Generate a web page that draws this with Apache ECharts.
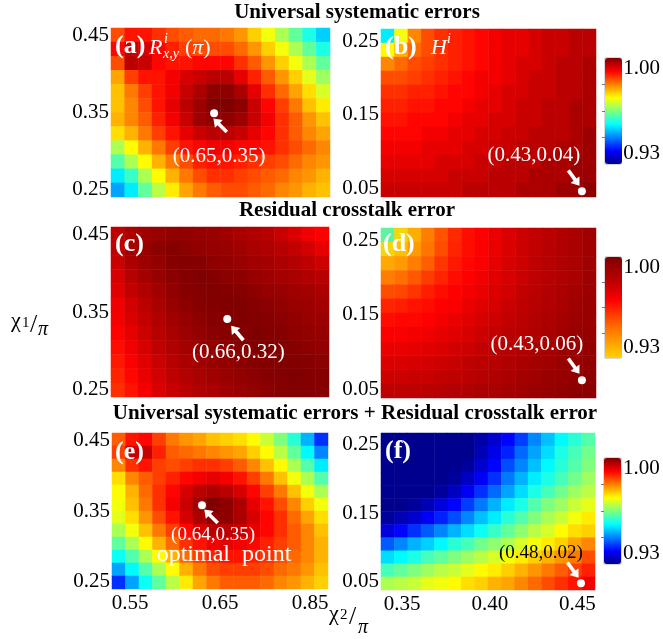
<!DOCTYPE html>
<html><head><meta charset="utf-8">
<script src="https://cdn.jsdelivr.net/npm/echarts@6/dist/echarts.min.js"></script>
<style>html,body{margin:0;padding:0;background:#fff}#c{width:663px;height:639px}</style>
</head><body><div id="c"></div>
<script>
// ---------------- data ----------------
const titles = ['Universal systematic errors', 'Residual crosstalk error', 'Universal systematic errors + Residual crosstalk error'];
const panelNames = ['(a)', '(b)', '(c)', '(d)', '(e)', '(f)'];

const leftXRange = [0.53, 0.77];
const leftYRange = [0.24, 0.46];
const rightXRange = [0.338, 0.46];
const rightYRange = [0.038, 0.267];

const leftXTicks = [0.55, 0.65, 0.75];
const leftXTickLabels = ['0.55', '0.65', '0.85'];
const leftYTicks = [0.25, 0.35, 0.45];
const leftYTickLabels = ['0.25', '0.35', '0.45'];
const rightXTicks = [0.35, 0.40, 0.45];
const rightXTickLabels = ['0.35', '0.40', '0.45'];
const rightYTicks = [0.05, 0.15, 0.25];
const rightYTickLabels = ['0.05', '0.15', '0.25'];
const colorbarTicks = [0.93, 1.00];
const colorbarTickLabels = ['0.93', '1.00'];
const colorbarMinorTicks = [0.9475, 0.965, 0.9825];

const pointCoords = [[0.643, 0.349], [0.452, 0.046], [0.658, 0.341], [0.452, 0.062], [0.630, 0.358], [0.452, 0.048]];
const pointLabels = ['(0.65,0.35)', '(0.43,0.04)', '(0.66,0.32)', '(0.43,0.06)', '(0.64,0.35)', '(0.48,0.02)'];

// rows listed top -> bottom, columns left -> right
const valuesA = [
 [0.986,0.990,0.990,0.988,0.986,0.985,0.984,0.984,0.983,0.981,0.977,0.973,0.968,0.963,0.958,0.953],
 [0.991,0.995,0.994,0.991,0.989,0.987,0.986,0.986,0.986,0.984,0.981,0.977,0.973,0.968,0.963,0.958],
 [0.986,0.996,0.995,0.991,0.990,0.990,0.991,0.991,0.991,0.988,0.985,0.981,0.977,0.973,0.968,0.963],
 [0.980,0.987,0.990,0.990,0.992,0.994,0.995,0.996,0.996,0.993,0.989,0.985,0.981,0.977,0.972,0.967],
 [0.978,0.983,0.987,0.990,0.992,0.995,0.997,0.999,0.999,0.997,0.993,0.988,0.984,0.980,0.976,0.971],
 [0.978,0.982,0.986,0.990,0.993,0.996,0.998,1.000,1.000,0.999,0.995,0.991,0.987,0.983,0.978,0.975],
 [0.979,0.982,0.985,0.989,0.992,0.995,0.998,0.999,0.999,0.998,0.995,0.992,0.988,0.985,0.981,0.978],
 [0.976,0.979,0.983,0.987,0.990,0.993,0.995,0.996,0.996,0.995,0.993,0.991,0.988,0.985,0.982,0.980],
 [0.968,0.974,0.979,0.983,0.987,0.990,0.991,0.992,0.992,0.991,0.991,0.990,0.988,0.986,0.984,0.982],
 [0.962,0.968,0.974,0.979,0.983,0.986,0.989,0.990,0.990,0.989,0.988,0.987,0.986,0.984,0.982,0.981],
 [0.955,0.960,0.968,0.974,0.979,0.983,0.986,0.988,0.988,0.987,0.986,0.985,0.984,0.982,0.981,0.979],
 [0.950,0.955,0.963,0.969,0.975,0.980,0.983,0.985,0.986,0.986,0.985,0.984,0.982,0.981,0.979,0.978]
];
const valuesB = [
 [0.955,0.973,0.982,0.986,0.988,0.989,0.990,0.991,0.992,0.993,0.993,0.994,0.995,0.995,0.996,0.996],
 [0.974,0.979,0.984,0.986,0.988,0.989,0.990,0.991,0.992,0.993,0.993,0.994,0.995,0.995,0.996,0.996],
 [0.982,0.984,0.986,0.987,0.988,0.989,0.990,0.991,0.992,0.993,0.994,0.994,0.995,0.996,0.996,0.997],
 [0.986,0.986,0.987,0.988,0.989,0.990,0.991,0.992,0.992,0.993,0.994,0.995,0.995,0.996,0.996,0.997],
 [0.988,0.988,0.989,0.989,0.990,0.991,0.991,0.992,0.993,0.994,0.994,0.995,0.995,0.996,0.996,0.997],
 [0.989,0.989,0.990,0.990,0.991,0.991,0.992,0.993,0.993,0.994,0.995,0.995,0.996,0.996,0.997,0.997],
 [0.990,0.990,0.991,0.991,0.991,0.992,0.993,0.993,0.994,0.994,0.995,0.995,0.996,0.996,0.997,0.997],
 [0.991,0.991,0.991,0.992,0.992,0.993,0.993,0.994,0.994,0.995,0.995,0.996,0.996,0.996,0.997,0.998],
 [0.992,0.992,0.992,0.993,0.993,0.993,0.994,0.994,0.995,0.995,0.996,0.996,0.996,0.997,0.997,0.998],
 [0.993,0.993,0.993,0.993,0.994,0.994,0.994,0.995,0.995,0.996,0.996,0.996,0.997,0.997,0.998,0.998],
 [0.994,0.994,0.994,0.994,0.994,0.995,0.995,0.995,0.996,0.996,0.996,0.997,0.997,0.997,0.998,0.998],
 [0.995,0.995,0.995,0.995,0.995,0.995,0.996,0.996,0.996,0.996,0.997,0.997,0.997,0.998,0.998,0.999]
];
const valuesC = [
 [0.983,0.988,0.991,0.993,0.995,0.995,0.994,0.993,0.991,0.989,0.987,0.985,0.981,0.977,0.973,0.970],
 [0.983,0.990,0.993,0.997,0.998,0.997,0.995,0.994,0.993,0.991,0.989,0.987,0.985,0.982,0.979,0.975],
 [0.981,0.988,0.992,0.995,0.998,0.999,0.998,0.996,0.995,0.993,0.991,0.990,0.988,0.986,0.983,0.980],
 [0.978,0.985,0.990,0.994,0.997,0.999,1.000,0.999,0.997,0.996,0.994,0.992,0.990,0.989,0.987,0.985],
 [0.976,0.982,0.987,0.991,0.995,0.998,0.999,1.000,0.999,0.998,0.996,0.994,0.993,0.991,0.990,0.988],
 [0.973,0.979,0.984,0.989,0.993,0.996,0.998,0.999,1.000,1.000,0.998,0.997,0.995,0.993,0.992,0.990],
 [0.972,0.977,0.982,0.987,0.991,0.994,0.996,0.998,0.999,1.000,0.999,0.998,0.997,0.995,0.993,0.992],
 [0.970,0.975,0.980,0.985,0.989,0.992,0.995,0.997,0.998,0.999,1.000,0.999,0.998,0.996,0.995,0.994],
 [0.968,0.973,0.978,0.983,0.987,0.990,0.993,0.995,0.997,0.998,0.999,1.000,0.999,0.998,0.996,0.995],
 [0.966,0.971,0.976,0.981,0.985,0.988,0.991,0.993,0.995,0.997,0.998,0.999,1.000,0.999,0.998,0.997],
 [0.964,0.969,0.974,0.979,0.983,0.986,0.989,0.991,0.993,0.995,0.997,0.998,0.999,1.000,0.999,0.998],
 [0.962,0.967,0.972,0.977,0.981,0.984,0.987,0.989,0.991,0.993,0.995,0.997,0.998,0.999,0.999,0.998]
];
const valuesD = [
 [0.918,0.929,0.938,0.948,0.956,0.963,0.968,0.970,0.974,0.977,0.980,0.982,0.984,0.987,0.989,0.991],
 [0.929,0.934,0.942,0.950,0.957,0.964,0.968,0.971,0.974,0.977,0.980,0.982,0.985,0.987,0.989,0.991],
 [0.939,0.942,0.948,0.954,0.961,0.966,0.969,0.971,0.975,0.978,0.980,0.983,0.985,0.987,0.989,0.991],
 [0.948,0.951,0.955,0.960,0.964,0.968,0.970,0.973,0.976,0.978,0.981,0.983,0.985,0.987,0.989,0.992],
 [0.957,0.958,0.961,0.965,0.968,0.970,0.972,0.974,0.977,0.979,0.982,0.984,0.986,0.988,0.990,0.992],
 [0.964,0.965,0.967,0.968,0.970,0.971,0.974,0.976,0.978,0.981,0.983,0.985,0.987,0.989,0.991,0.993],
 [0.968,0.969,0.969,0.970,0.972,0.974,0.976,0.978,0.980,0.982,0.984,0.986,0.988,0.990,0.992,0.993],
 [0.971,0.971,0.972,0.973,0.975,0.976,0.978,0.980,0.982,0.984,0.985,0.987,0.989,0.991,0.993,0.994],
 [0.974,0.974,0.975,0.976,0.977,0.979,0.980,0.982,0.984,0.985,0.987,0.989,0.990,0.992,0.993,0.995],
 [0.977,0.977,0.978,0.979,0.980,0.981,0.983,0.984,0.985,0.987,0.988,0.990,0.991,0.993,0.994,0.995],
 [0.980,0.980,0.981,0.981,0.982,0.983,0.984,0.985,0.987,0.988,0.990,0.991,0.993,0.994,0.995,0.996],
 [0.983,0.983,0.983,0.984,0.985,0.986,0.987,0.988,0.989,0.990,0.991,0.993,0.994,0.995,0.996,0.997]
];
const valuesE = [
 [0.985,0.990,0.991,0.987,0.983,0.981,0.980,0.978,0.977,0.976,0.974,0.970,0.965,0.959,0.951,0.942],
 [0.987,0.995,0.995,0.989,0.985,0.984,0.983,0.982,0.981,0.980,0.977,0.974,0.969,0.963,0.956,0.948],
 [0.982,0.988,0.990,0.987,0.986,0.987,0.988,0.988,0.987,0.985,0.982,0.978,0.974,0.968,0.962,0.955],
 [0.976,0.982,0.985,0.987,0.989,0.991,0.992,0.993,0.992,0.990,0.987,0.983,0.978,0.973,0.968,0.962],
 [0.974,0.979,0.984,0.988,0.991,0.994,0.996,0.997,0.996,0.994,0.991,0.987,0.983,0.978,0.973,0.968],
 [0.973,0.978,0.983,0.988,0.992,0.995,0.998,1.000,0.999,0.997,0.993,0.990,0.986,0.982,0.977,0.973],
 [0.972,0.976,0.981,0.986,0.990,0.994,0.997,0.999,0.999,0.997,0.994,0.991,0.988,0.984,0.980,0.976],
 [0.968,0.973,0.978,0.983,0.987,0.991,0.994,0.996,0.996,0.995,0.993,0.991,0.988,0.985,0.982,0.978],
 [0.963,0.968,0.974,0.979,0.984,0.988,0.990,0.992,0.993,0.992,0.991,0.989,0.987,0.985,0.982,0.979],
 [0.957,0.962,0.968,0.974,0.979,0.984,0.987,0.989,0.990,0.990,0.989,0.988,0.986,0.984,0.982,0.979],
 [0.950,0.956,0.962,0.968,0.974,0.979,0.983,0.986,0.987,0.987,0.987,0.986,0.984,0.983,0.981,0.978],
 [0.942,0.950,0.957,0.963,0.969,0.975,0.980,0.983,0.985,0.985,0.985,0.984,0.982,0.981,0.979,0.977]
];
const valuesF = [
 [0.930,0.930,0.930,0.930,0.930,0.930,0.930,0.932,0.935,0.939,0.943,0.948,0.952,0.956,0.959,0.962],
 [0.930,0.930,0.930,0.930,0.930,0.930,0.930,0.933,0.937,0.941,0.946,0.950,0.954,0.958,0.961,0.964],
 [0.930,0.930,0.930,0.930,0.930,0.930,0.931,0.935,0.939,0.944,0.948,0.952,0.956,0.959,0.962,0.965],
 [0.930,0.930,0.930,0.930,0.930,0.931,0.934,0.938,0.942,0.947,0.951,0.955,0.958,0.961,0.964,0.967],
 [0.930,0.930,0.930,0.930,0.931,0.934,0.938,0.942,0.946,0.950,0.954,0.958,0.961,0.964,0.967,0.969],
 [0.930,0.930,0.931,0.933,0.936,0.939,0.943,0.947,0.951,0.955,0.958,0.962,0.965,0.967,0.970,0.972],
 [0.931,0.933,0.935,0.938,0.941,0.944,0.948,0.952,0.955,0.959,0.962,0.965,0.968,0.970,0.973,0.975],
 [0.936,0.939,0.942,0.945,0.948,0.951,0.954,0.957,0.960,0.963,0.966,0.969,0.971,0.974,0.976,0.977],
 [0.945,0.948,0.951,0.953,0.956,0.959,0.961,0.964,0.966,0.968,0.971,0.973,0.975,0.977,0.980,0.982],
 [0.954,0.956,0.958,0.961,0.963,0.965,0.967,0.969,0.971,0.973,0.975,0.977,0.979,0.981,0.983,0.986],
 [0.961,0.963,0.965,0.967,0.969,0.970,0.972,0.974,0.975,0.977,0.979,0.981,0.983,0.985,0.987,0.989],
 [0.968,0.969,0.970,0.972,0.973,0.974,0.976,0.977,0.979,0.980,0.982,0.984,0.986,0.988,0.990,0.992]
];
const panelValues = [valuesA, valuesB, valuesC, valuesD, valuesE, valuesF];

// ---------------- layout & style ----------------
const serif = '"Liberation Serif","Times New Roman",serif';
const layout = [
  {grid:{left:111,top:28,width:219,height:169}, side:'L', xLabels:false, lblOff:[5,43],  lblSize:21, lblColor:'#fff', arOff:[6,12],  arRot:45},
  {grid:{left:381,top:29,width:215,height:168}, side:'R', xLabels:false, lblOff:[-48,-36],lblSize:21, lblColor:'#fff', arOff:[-8,-13],arRot:-144},
  {grid:{left:111,top:227,width:218,height:170},side:'L', xLabels:false, lblOff:[11,34], lblSize:21, lblColor:'#fff', arOff:[10,14], arRot:40},
  {grid:{left:381,top:228,width:215,height:170},side:'R', xLabels:false, lblOff:[-45,-36],lblSize:21, lblColor:'#fff', arOff:[-8,-14],arRot:-144},
  {grid:{left:112,top:433,width:216,height:156},side:'L', xLabels:true,  lblOff:[11,30], lblSize:19, lblColor:'#fff', arOff:[9,11],  arRot:45},
  {grid:{left:381,top:433,width:214,height:157},side:'R', xLabels:true,  lblOff:[-40,-30],lblSize:19, lblColor:'#000', arOff:[-8,-13],arRot:-144}
];
const cbGrids = [
  {left:605, top:58,  width:17, height:106},
  {left:605, top:257, width:17, height:101},
  {left:604, top:458, width:17, height:106}
];

function hex(c){return [1,3,5].map(i=>parseInt(c.slice(i,i+2),16));}
function sampleColors(anchors, min, max, n){
  const out=[];
  for(let k=0;k<n;k++){
    const v=min+(max-min)*k/(n-1);
    let i=0; while(i<anchors.length-2 && v>anchors[i+1][0]) i++;
    const a=anchors[i], b=anchors[i+1];
    let f=(v-a[0])/(b[0]-a[0]); f=Math.max(0,Math.min(1,f));
    const ca=hex(a[1]), cb=hex(b[1]);
    out.push('rgb('+ca.map((x,j)=>Math.round(x+(cb[j]-x)*f)).join(',')+')');
  }
  return out;
}
const jetAnchors=[[0.93,'#00008f'],[0.93875,'#0000ff'],[0.95625,'#00ffff'],[0.97375,'#ffff00'],[0.99125,'#ff0000'],[1.0,'#800000']];
const hotAnchors=[[0.90,'#0000ff'],[0.912,'#00e0ff'],[0.922,'#a0ff60'],[0.93,'#ffd200'],[0.951,'#ff7000'],[0.970,'#ff0000'],[0.9825,'#c00000'],[1.0,'#800000']];
const jetColors=sampleColors(jetAnchors,0.93,1.0,41);
const hotShown=sampleColors(hotAnchors,0.93,1.0,41);
const hotFull=sampleColors(hotAnchors,0.90,1.0,61);

function lab(ticks, labels, v){
  let best=0; ticks.forEach((t,i)=>{ if(Math.abs(t-v)<Math.abs(ticks[best]-v)) best=i; });
  return labels[best];
}
function toCells(rows){
  const out=[], n=rows.length;
  rows.forEach((r,ri)=>r.forEach((v,ci)=>out.push([ci,n-1-ri,v])));
  return out;
}

const grids=[], xAxes=[], yAxes=[], series=[];
const labelFont={fontSize:21,fontFamily:serif,color:'#000'};
layout.forEach((L,p)=>{
  grids.push(Object.assign({},L.grid));
  const isL=L.side==='L';
  const xr=isL?leftXRange:rightXRange, yr=isL?leftYRange:rightYRange;
  const xt=isL?leftXTicks:rightXTicks, xl=isL?leftXTickLabels:rightXTickLabels;
  const yt=isL?leftYTicks:rightYTicks, yl=isL?leftYTickLabels:rightYTickLabels;
  const vals=panelValues[p];
  xAxes.push({type:'category',gridIndex:p,position:'top',show:false,data:vals[0].map((_,i)=>i)});
  xAxes.push({type:'value',gridIndex:p,position:'bottom',min:xr[0],max:xr[1],
    axisLine:{show:false},axisTick:{show:false},splitLine:{show:false},
    axisLabel:Object.assign({show:L.xLabels,customValues:xt,formatter:v=>lab(xt,xl,v),margin:4},labelFont)});
  yAxes.push({type:'category',gridIndex:p,position:'right',show:false,data:vals.map((_,i)=>i)});
  yAxes.push({type:'value',gridIndex:p,position:'left',min:yr[0],max:yr[1],
    axisLine:{show:false},axisTick:{show:false},splitLine:{show:false},
    axisLabel:Object.assign({show:true,customValues:yt,formatter:v=>lab(yt,yl,v),margin:2},labelFont)});
  series.push({type:'heatmap',xAxisIndex:2*p,yAxisIndex:2*p,data:toCells(vals),silent:true,
    emphasis:{disabled:true},itemStyle:{borderWidth:0}});
});
cbGrids.forEach((g,k)=>{
  grids.push(Object.assign({show:true,borderColor:'#b0b0b0',borderWidth:1,backgroundColor:'transparent'},g));
  xAxes.push({type:'value',gridIndex:6+k,show:false,min:0,max:1});
  yAxes.push({type:'value',gridIndex:6+k,position:'right',min:colorbarTicks[0],max:colorbarTicks[1],
    axisLine:{show:false},splitLine:{show:false},
    axisTick:{show:true,inside:true,length:3,customValues:colorbarMinorTicks,lineStyle:{color:'#777'}},
    axisLabel:Object.assign({customValues:colorbarTicks,formatter:v=>lab(colorbarTicks,colorbarTickLabels,v),margin:2,
      verticalAlignMinLabel:'bottom',verticalAlignMaxLabel:'top'},labelFont)});
});
// dummy series for the shown hot colour bar (index 6)
series.push({type:'scatter',xAxisIndex:12,yAxisIndex:12,data:[],silent:true});
const arrowPath='path://M6,0 L12,8 L8,8 L8,20 L4,20 L4,8 L0,8 Z';
layout.forEach((L,p)=>{
  series.push({type:'scatter',xAxisIndex:2*p+1,yAxisIndex:2*p+1,z:5,silent:true,
    data:[pointCoords[p]],symbol:'circle',symbolSize:8,itemStyle:{color:'#fff',opacity:1},
    label:{show:true,position:'inside',offset:L.lblOff,formatter:pointLabels[p],opacity:1,
      color:L.lblColor,fontSize:L.lblSize,fontFamily:serif}});
});
layout.forEach((L,p)=>{
  series.push({type:'scatter',xAxisIndex:2*p+1,yAxisIndex:2*p+1,z:5,silent:true,
    data:[pointCoords[p]],symbol:arrowPath,symbolSize:[11,19],symbolRotate:L.arRot,
    symbolOffset:L.arOff,itemStyle:{color:'#fff',opacity:1}});
});

const vmBase={type:'continuous',calculable:false,padding:0,itemWidth:17,show:true,hoverLink:false,orient:'vertical'};
const visualMap=[
  Object.assign({},vmBase,{min:0.93,max:1.0,seriesIndex:[0,1],inRange:{color:jetColors},left:cbGrids[0].left,top:cbGrids[0].top,itemHeight:cbGrids[0].height}),
  Object.assign({},vmBase,{min:0.93,max:1.0,seriesIndex:[6],inRange:{color:hotShown},left:cbGrids[1].left,top:cbGrids[1].top,itemHeight:cbGrids[1].height}),
  Object.assign({},vmBase,{show:false,min:0.90,max:1.0,seriesIndex:[2,3],inRange:{color:hotFull}}),
  Object.assign({},vmBase,{min:0.93,max:1.0,seriesIndex:[4,5],inRange:{color:jetColors},left:cbGrids[2].left,top:cbGrids[2].top,itemHeight:cbGrids[2].height})
];

function txt(x,y,text,size,opts){
  return {type:'text',x:x,y:y,z:100,silent:true,
    style:Object.assign({text:text,fontSize:size,fontFamily:serif,fill:'#000',align:'left',verticalAlign:'middle'},opts||{})};
}
const WI={fill:'#fff',fontStyle:'italic'};
const graphic=[
  txt(357,13,titles[0],21,{fontWeight:'bold',align:'center'}),
  txt(347,211,titles[1],21,{fontWeight:'bold',align:'center'}),
  txt(355,414,titles[2],21,{fontWeight:'bold',align:'center'}),
  txt(115,46,panelNames[0],26,{fontWeight:'bold',fill:'#fff'}),
  txt(385,47,panelNames[1],26,{fontWeight:'bold',fill:'#fff'}),
  txt(115,244,panelNames[2],26,{fontWeight:'bold',fill:'#fff'}),
  txt(383,244,panelNames[3],26,{fontWeight:'bold',fill:'#fff'}),
  txt(115,452,panelNames[4],26,{fontWeight:'bold',fill:'#fff'}),
  txt(385,451,panelNames[5],26,{fontWeight:'bold',fill:'#fff'}),
  txt(149,48,'R',22,WI),
  txt(164,39,'i',14,WI),
  txt(163,54,'x,y',14,WI),
  txt(185,48,'({i|π})',22,{fill:'#fff',rich:{i:{fontStyle:'italic',fontSize:22,fontFamily:serif,fill:'#fff'}}}),
  txt(431,48,'H',22,WI),
  txt(447,39,'i',14,WI),
  txt(224,555,'optimal  point',24,{fill:'#fff',align:'center'}),
  txt(11,321,'χ',22,{}),
  txt(22,323,'1',15,{}),
  txt(30,325,'/',26,{}),
  txt(38,330,'π',20,{fontStyle:'italic'}),
  txt(329,614,'χ',22,{}),
  txt(340,615,'2',15,{}),
  txt(349,617,'/',26,{}),
  txt(358,628,'π',20,{fontStyle:'italic'})
];

const chart=echarts.init(document.getElementById('c'),null,{renderer:'canvas'});
chart.setOption({animation:false,backgroundColor:'#fff',grid:grids,xAxis:xAxes,yAxis:yAxes,
  visualMap:visualMap,series:series,graphic:graphic});
</script></body></html>
